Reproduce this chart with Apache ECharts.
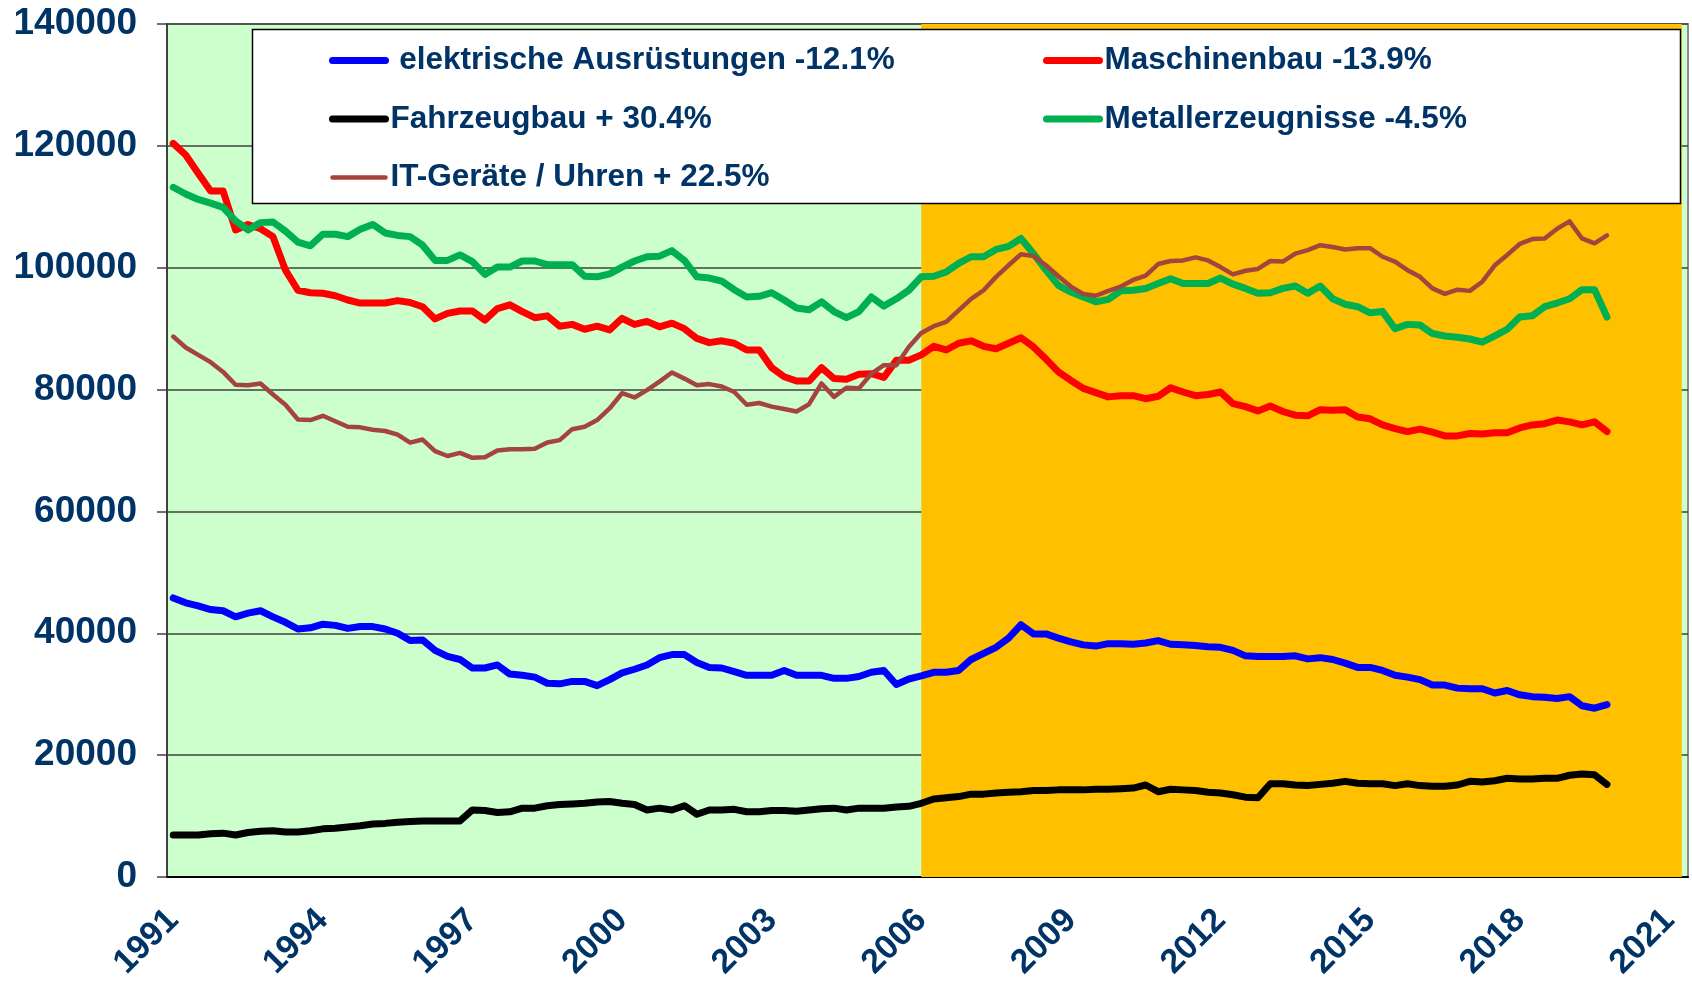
<!DOCTYPE html>
<html>
<head>
<meta charset="utf-8">
<script src="https://cdn.jsdelivr.net/npm/echarts@6.0.0/dist/echarts.min.js"></script>
<style>
  html, body { margin: 0; padding: 0; background: #fff; }
  #chart { width: 1692px; height: 982px; }
</style>
</head>
<body>
<div id="chart"></div>
<script>
// Quartale 1991 Q1 .. 2021 Q2 (Achse), Daten bis 2019 Q4
const years = [1991, 1992, 1993, 1994, 1995, 1996, 1997, 1998, 1999, 2000, 2001, 2002, 2003, 2004, 2005, 2006,
  2007, 2008, 2009, 2010, 2011, 2012, 2013, 2014, 2015, 2016, 2017, 2018, 2019, 2020, 2021]
const quarters = []
years.forEach(y => ['Q1', 'Q2', 'Q3', 'Q4'].forEach(q => quarters.push(y + ' ' + q)))
quarters.length = 122

const shadeStart = '2006 Q1'
const shadeEnd = '2021 Q2'

const names = [
  ' elektrische Ausrüstungen -12.1%',
  'Maschinenbau -13.9%',
  'Fahrzeugbau + 30.4%',
  'Metallerzeugnisse -4.5%',
  'IT-Geräte / Uhren + 22.5%'
]

const elektrisch = [45800, 45000, 44500, 43900, 43700, 42700, 43300, 43700, 42700, 41800,
  40700, 40900, 41500, 41300, 40800, 41100, 41100, 40700, 40000, 38800,
  38900, 37200, 36200, 35700, 34300, 34300, 34800, 33300, 33100, 32800,
  31800, 31700, 32100, 32100, 31400, 32400, 33500, 34100, 34800, 36000,
  36500, 36500, 35200, 34400, 34300, 33700, 33100, 33100, 33100, 33900,
  33100, 33100, 33100, 32600, 32600, 32900, 33600, 33900, 31600, 32500,
  33000, 33600, 33600, 33900, 35700, 36700, 37700, 39200, 41400, 39900,
  39900, 39200, 38600, 38100, 37900, 38300, 38300, 38200, 38400, 38800,
  38200, 38100, 38000, 37800, 37700, 37200, 36300, 36200, 36200, 36200,
  36300, 35800, 36000, 35700, 35100, 34400, 34400, 33900, 33100, 32800,
  32400, 31500, 31500, 31000, 30900, 30900, 30200, 30600, 29900, 29600,
  29500, 29300, 29600, 28100, 27700, 28300]

const maschinenbau = [120400, 118500, 115500, 112600, 112600, 106200, 107100, 106400, 105100, 99600,
  96300, 95900, 95800, 95400, 94700, 94200, 94200, 94200, 94600, 94300,
  93600, 91600, 92500, 92900, 92900, 91400, 93300, 93900, 92800, 91800,
  92100, 90400, 90700, 89900, 90400, 89800, 91700, 90700, 91200, 90300,
  90900, 90000, 88400, 87700, 88000, 87600, 86500, 86500, 83600, 82100,
  81400, 81400, 83600, 81800, 81700, 82500, 82600, 82000, 84800, 84800,
  85700, 87100, 86500, 87600, 88000, 87100, 86700, 87600, 88500, 87000,
  85000, 82900, 81500, 80200, 79500, 78800, 79000, 79000, 78500, 78900,
  80300, 79600, 79000, 79200, 79600, 77700, 77200, 76500, 77300, 76400,
  75800, 75700, 76700, 76600, 76700, 75500, 75200, 74200, 73600, 73100,
  73500, 73000, 72400, 72400, 72800, 72700, 72900, 72900, 73700, 74200,
  74400, 75000, 74700, 74200, 74700, 73100]

const fahrzeugbau = [6900, 6900, 6900, 7100, 7200, 6900, 7300, 7500, 7600, 7400,
  7400, 7600, 7900, 8000, 8200, 8400, 8700, 8800, 9000, 9100,
  9200, 9200, 9200, 9200, 11000, 10900, 10600, 10700, 11300, 11300,
  11700, 11900, 12000, 12100, 12300, 12400, 12100, 11900, 11000, 11300,
  11000, 11700, 10300, 11000, 11000, 11100, 10700, 10700, 10900, 10900,
  10800, 11000, 11200, 11300, 11000, 11300, 11300, 11300, 11500, 11600,
  12100, 12800, 13000, 13200, 13600, 13600, 13800, 13900, 14000, 14200,
  14200, 14300, 14300, 14300, 14400, 14400, 14500, 14600, 15100, 14000,
  14400, 14300, 14200, 13900, 13800, 13500, 13100, 13000, 15300, 15300,
  15100, 15000, 15200, 15400, 15700, 15400, 15300, 15300, 15000, 15300,
  15000, 14900, 14900, 15100, 15700, 15600, 15800, 16200, 16100, 16100,
  16200, 16200, 16700, 16900, 16800, 15200]

const metall = [113200, 112100, 111200, 110600, 109900, 107700, 106200, 107400, 107500, 106000,
  104200, 103600, 105500, 105500, 105100, 106300, 107100, 105700, 105300, 105100,
  103700, 101200, 101200, 102100, 101000, 98900, 100100, 100100, 101100, 101100,
  100500, 100500, 100500, 98600, 98500, 99000, 100100, 101100, 101800, 101900,
  102800, 101200, 98500, 98300, 97800, 96400, 95200, 95300, 95900, 94700,
  93400, 93100, 94400, 92800, 91800, 92800, 95200, 93700, 94900, 96300,
  98500, 98600, 99300, 100700, 101800, 101800, 103000, 103500, 104800, 102300,
  99600, 97100, 96000, 95200, 94400, 94800, 96200, 96300, 96600, 97400,
  98200, 97400, 97400, 97400, 98300, 97300, 96600, 95800, 95900, 96600,
  97000, 95800, 97000, 94900, 94000, 93600, 92600, 92800, 90000, 90700,
  90600, 89200, 88800, 88600, 88300, 87800, 88800, 89900, 91900, 92100,
  93600, 94200, 94900, 96400, 96400, 91900]

const itGeraete = [88700, 86900, 85700, 84500, 82900, 80800, 80700, 81000, 79200, 77500,
  75100, 75000, 75700, 74800, 73900, 73800, 73400, 73200, 72600, 71300,
  71800, 69900, 69100, 69600, 68800, 68900, 70000, 70200, 70200, 70300,
  71300, 71700, 73500, 73900, 75000, 76900, 79400, 78700, 79900, 81300,
  82800, 81800, 80700, 80900, 80500, 79600, 77500, 77800, 77200, 76800,
  76400, 77600, 81000, 78800, 80300, 80200, 82600, 84000, 84000, 87000,
  89300, 90400, 91100, 93000, 94900, 96300, 98500, 100400, 102200, 101900,
  100400, 98600, 96900, 95700, 95400, 96200, 96900, 98000, 98700, 100600,
  101100, 101200, 101700, 101200, 100100, 98900, 99500, 99800, 101100, 101000,
  102300, 102900, 103700, 103400, 103000, 103200, 103200, 101800, 101000, 99600,
  98500, 96600, 95700, 96400, 96200, 97700, 100400, 102100, 103900, 104700,
  104800, 106400, 107600, 104800, 104000, 105300]

const font = "'Liberation Sans', Arial, sans-serif"
const navy = '#003366'

const chartDom = document.getElementById('chart')
const myChart = echarts.init(chartDom)

const lineSeries = (name, data, color, width) => ({
  name: name,
  type: 'line',
  data: data,
  symbol: 'none',
  z: 3,
  lineStyle: { color: color, width: width, cap: 'round', join: 'round' },
  itemStyle: { color: color }
})

// Legende in zwei Spalten
const legendBase = {
  orient: 'vertical',
  top: 42.5,
  padding: 0,
  itemWidth: 53,
  itemHeight: 14,
  itemGap: 22.5,
  z: 20,
  selectedMode: false,
  itemStyle: { opacity: 0 },
  lineStyle: { width: 'inherit', cap: 'round' },
  textStyle: { color: navy, fontFamily: font, fontWeight: 'bold', fontSize: 31.5, lineHeight: 36 }
}

const option = {
  animation: false,
  backgroundColor: '#fff',
  grid: {
    left: 167, right: 4, top: 24, bottom: 105,
    show: true,
    backgroundColor: '#CCFFCC',
    borderColor: '#8c8c8c',
    borderWidth: 2,
    outerBoundsMode: 'none'
  },
  legend: [
    Object.assign({}, legendBase, { left: 329, data: [names[0], names[2], names[4]] }),
    Object.assign({}, legendBase, { left: 1043, data: [names[1], names[3]] })
  ],
  graphic: [{
    type: 'rect',
    z: 10,
    shape: { x: 252.5, y: 29.5, width: 1428, height: 174 },
    style: { fill: '#fff', stroke: '#000', lineWidth: 1.5 }
  }],
  xAxis: {
    type: 'category',
    data: quarters,
    boundaryGap: true,
    axisLine: { lineStyle: { color: '#000', width: 2 } },
    axisTick: { interval: 11, length: 10, lineStyle: { color: '#000', width: 1.5 } },
    axisLabel: {
      interval: 11,
      rotate: 45,
      margin: 38,
      color: navy,
      fontFamily: font,
      fontWeight: 'bold',
      fontSize: 34,
      formatter: v => v.slice(0, 4)
    },
    splitLine: { show: false }
  },
  yAxis: {
    type: 'value',
    min: 0,
    max: 140000,
    interval: 20000,
    axisLine: { show: true, lineStyle: { color: '#404040', width: 2 } },
    axisTick: { show: true, length: 10, lineStyle: { color: '#404040', width: 1.5 } },
    axisLabel: {
      margin: 30,
      color: navy,
      fontFamily: font,
      fontWeight: 'bold',
      fontSize: 37,
      formatter: v => String(v)
    },
    splitLine: { lineStyle: { color: '#404040', width: 1.5 } }
  },
  series: [
    {
      name: 'bg',
      type: 'line',
      data: [],
      z: 1,
      silent: true,
      markArea: {
        silent: true,
        itemStyle: { color: '#FFC000' },
        data: [[{ xAxis: shadeStart, yAxis: 0 }, { xAxis: shadeEnd, yAxis: 140000 }]]
      }
    },
    lineSeries(names[0], elektrisch, '#0000FF', 7),
    lineSeries(names[1], maschinenbau, '#FF0000', 7),
    lineSeries(names[2], fahrzeugbau, '#000000', 7),
    lineSeries(names[3], metall, '#00B050', 7),
    lineSeries(names[4], itGeraete, '#A5443F', 4.5)
  ]
}

option && myChart.setOption(option)
</script>
</body>
</html>
